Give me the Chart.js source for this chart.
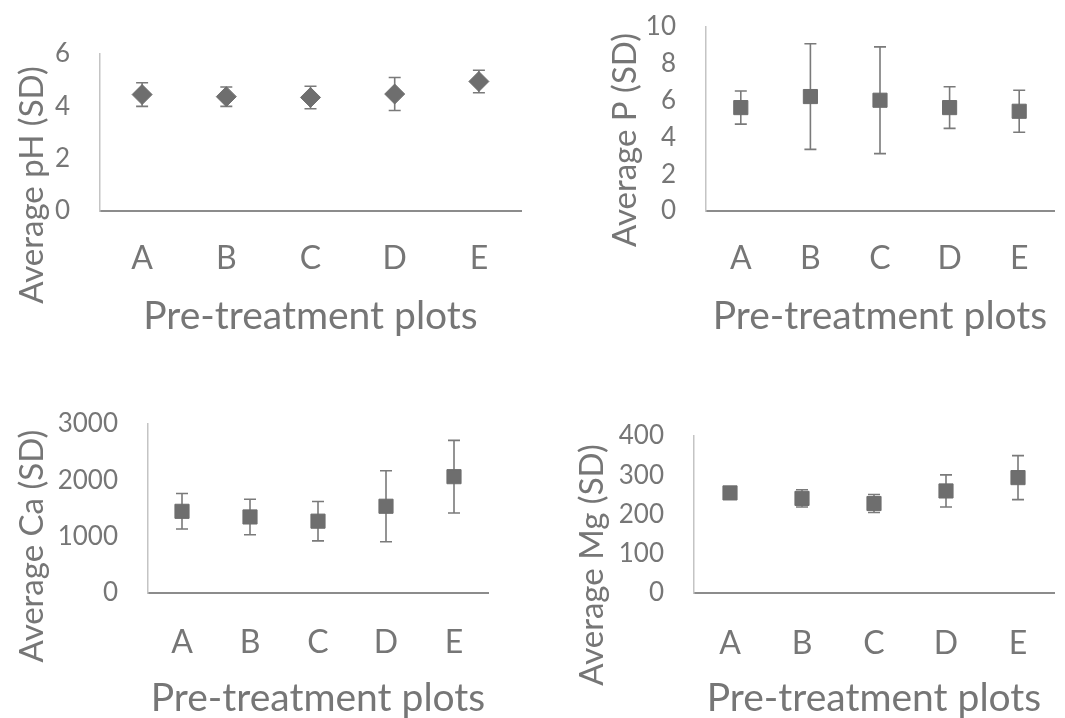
<!DOCTYPE html>
<html>
<head>
<meta charset="utf-8">
<title>Pre-treatment soil averages</title>
<script src="https://cdn.jsdelivr.net/npm/chart.js@4.4.1/dist/chart.umd.min.js"></script>
<style>
  html, body { margin: 0; padding: 0; background: #fff; }
  #wrap { position: relative; width: 1065px; height: 718px; overflow: hidden; }
  canvas { position: absolute; }
</style>
</head>
<body>
<div id="wrap">
  <canvas id="chartPH" width="532" height="359" style="left:0;top:0"></canvas>
  <canvas id="chartP" width="533" height="359" style="left:532px;top:0"></canvas>
  <canvas id="chartCa" width="532" height="359" style="left:0;top:359px"></canvas>
  <canvas id="chartMg" width="533" height="359" style="left:532px;top:359px"></canvas>
</div>
<script>
// ============================================
// Pre-treatment plot averages with SD error bars
// ============================================

const plots = ['A', 'B', 'C', 'D', 'E'];

const phMean = [4.45, 4.37, 4.34, 4.47, 4.95];
const phSD = [0.45, 0.37, 0.43, 0.63, 0.43];
const phTicks = [0, 2, 4, 6];

const pMean = [5.62, 6.22, 6.02, 5.62, 5.42];
const pSD = [0.9, 2.87, 2.9, 1.13, 1.14];
const pTicks = [0, 2, 4, 6, 8, 10];

const caMean = [1450, 1350, 1275, 1540, 2065];
const caSD = [315, 315, 350, 630, 645];
const caTicks = [0, 1000, 2000, 3000];

const mgMean = [255, 241, 228, 260, 294];
const mgSD = [8, 22, 23, 41, 56];
const mgTicks = [0, 100, 200, 300, 400];

const TEXT = '#767676';
const MARK = '#6e6e6e';
const FONT = 'Lato, "Open Sans", sans-serif';

// error bars drawn under the markers, from the y scale
const errorBars = {
    id: 'errorBars',
    beforeDatasetsDraw(chart, args, opts) {
        const ctx = chart.ctx;
        const y = chart.scales.y;
        const meta = chart.getDatasetMeta(0);
        const means = chart.data.datasets[0].data;
        ctx.save();
        ctx.strokeStyle = '#7a7a7a';
        ctx.lineWidth = 1.6;
        meta.data.forEach((pt, i) => {
            const top = y.getPixelForValue(means[i] + opts.sd[i]);
            const bot = y.getPixelForValue(means[i] - opts.sd[i]);
            ctx.beginPath();
            ctx.moveTo(pt.x, top);
            ctx.lineTo(pt.x, bot);
            ctx.moveTo(pt.x - 6, top);
            ctx.lineTo(pt.x + 6, top);
            ctx.moveTo(pt.x - 6, bot);
            ctx.lineTo(pt.x + 6, bot);
            ctx.stroke();
        });
        ctx.restore();
    }
};

// axis titles (the y one sits lower than the plot centre, as in the original)
const axisTitles = {
    id: 'axisTitles',
    afterDraw(chart, args, opts) {
        const ctx = chart.ctx;
        const area = chart.chartArea;
        ctx.save();
        ctx.fillStyle = TEXT;
        ctx.textAlign = 'center';
        ctx.textBaseline = 'alphabetic';
        ctx.font = '39px ' + FONT;
        ctx.fillText(opts.x, (area.left + area.right) / 2, area.bottom + 118);
        ctx.font = '33px ' + FONT;
        ctx.translate(opts.yPos[0], opts.yPos[1]);
        ctx.rotate(-Math.PI / 2);
        ctx.fillText(opts.y, 0, 0);
        ctx.restore();
    }
};

function makeChart(id, cfg) {
    const ctx = document.getElementById(id).getContext('2d');
    return new Chart(ctx, {
        type: 'line',
        data: {
            labels: plots,
            datasets: [{
                data: cfg.mean,
                showLine: false,
                pointStyle: cfg.marker,
                pointRadius: 10,
                pointBackgroundColor: MARK,
                pointBorderColor: MARK,
                pointBorderWidth: 1
            }]
        },
        options: {
            responsive: false,
            animation: false,
            devicePixelRatio: 1,
            layout: { padding: { left: 0, top: cfg.top, right: cfg.right, bottom: 0 } },
            plugins: {
                legend: { display: false },
                tooltip: { enabled: false },
                errorBars: { sd: cfg.sd },
                axisTitles: { x: 'Pre-treatment plots', y: cfg.title, yPos: cfg.titlePos }
            },
            scales: {
                x: {
                    offset: true,
                    grid: { display: false, drawTicks: false },
                    border: { display: true, color: '#8c8c8c', width: 2 },
                    ticks: { color: TEXT, padding: cfg.xPad, maxRotation: 0, font: { family: FONT, size: 32 } },
                    afterFit(scale) {
                        scale.height = cfg.xHeight;
                        scale.paddingLeft = 0;
                        scale.paddingRight = 0;
                    }
                },
                y: {
                    min: cfg.ticks[0],
                    max: cfg.ticks[cfg.ticks.length - 1],
                    grid: { display: false, drawTicks: false },
                    border: { display: true, color: '#c4c4c4', width: 1.5 },
                    ticks: {
                        color: TEXT, padding: 30, autoSkip: false,
                        font: { family: FONT, size: 26 },
                        callback: v => String(v)
                    },
                    afterBuildTicks(scale) { scale.ticks = cfg.ticks.map(v => ({ value: v })); },
                    afterFit(scale) {
                        // keep the plot box where the layout padding puts it
                        scale.width = cfg.yWidth;
                        scale.paddingTop = 0;
                        scale.paddingBottom = 0;
                    }
                }
            }
        },
        plugins: [errorBars, axisTitles]
    });
}

makeChart('chartPH', {
    mean: phMean, sd: phSD, ticks: phTicks, marker: 'rectRot',
    title: 'Average pH (SD)', titlePos: [43, 185],
    top: 54, right: 7, yWidth: 100, xHeight: 148, xPad: 28
});
makeChart('chartP', {
    mean: pMean, sd: pSD, ticks: pTicks, marker: 'rect',
    title: 'Average P (SD)', titlePos: [104, 140],
    top: 27, right: 9, yWidth: 174, xHeight: 148, xPad: 28
});
makeChart('chartCa', {
    mean: caMean, sd: caSD, ticks: caTicks, marker: 'rect',
    title: 'Average Ca (SD)', titlePos: [43, 187],
    top: 65, right: 44, yWidth: 148, xHeight: 125, xPad: 30
});
makeChart('chartMg', {
    mean: mgMean, sd: mgSD, ticks: mgTicks, marker: 'rect',
    title: 'Average Mg (SD)', titlePos: [71, 206],
    top: 77, right: 4, yWidth: 162, xHeight: 125, xPad: 31
});
</script>
</body>
</html>
